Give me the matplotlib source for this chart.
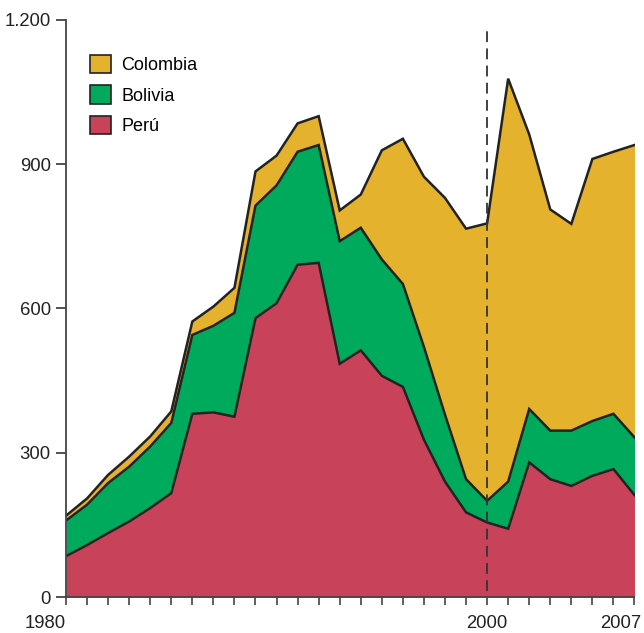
import matplotlib
matplotlib.use("Agg")
import matplotlib.pyplot as plt
import matplotlib.transforms as mtransforms
from matplotlib.patches import Patch

plt.rcParams['font.family'] = ['Liberation Sans', 'DejaVu Sans']

# years and values (stacked: Peru, Bolivia, Colombia)
years = list(range(1980, 2008))
peru = [85, 108, 133, 157, 185, 216, 381, 384, 375, 580, 611, 691, 695, 485,
        513, 460, 437, 327, 240, 176, 155, 142, 280, 245, 231, 252, 266, 212]
bolivia = [74, 84, 104, 114, 128, 146, 164, 180, 216, 234, 245, 235, 245, 255,
           255, 242, 214, 193, 139, 69, 45, 98, 111, 101, 115, 114, 115, 120]
colombia = [10, 13, 17, 21, 21, 24, 28, 40, 52, 71, 62, 59, 60, 64,
            69, 227, 302, 354, 451, 521, 577, 838, 571, 460, 430, 545, 545, 608]

names = ['Colombia', 'Bolivia', 'Perú']
colors = {'Perú': '#c8435a', 'Bolivia': '#00aa5c', 'Colombia': '#e5b22d'}

y_ticks = [0, 300, 600, 900, 1200]
y_labels = ['0', '300', '600', '900', '1.200']
x_labeled = {1980: '1980', 2000: '2000', 2007: '2007'}

edge = '#222222'

fig = plt.figure(figsize=(6.44, 6.33), dpi=100)
ax = fig.add_axes([66 / 644, 36 / 633, 568.5 / 644, 577 / 633])

# cumulative layers
top_peru = peru
top_bol = [p + b for p, b in zip(peru, bolivia)]
top_col = [t + c for t, c in zip(top_bol, colombia)]

ax.fill_between(years, 0, top_peru, color=colors['Perú'], lw=0)
ax.fill_between(years, top_peru, top_bol, color=colors['Bolivia'], lw=0)
ax.fill_between(years, top_bol, top_col, color=colors['Colombia'], lw=0)
for layer in (top_peru, top_bol, top_col):
    ax.plot(years, layer, color=edge, lw=1.8, solid_joinstyle='miter')

ax.vlines(2000, 12, 1185, colors='#333333', linestyles=(0, (6, 3.5)), lw=1.3)

ax.set_xlim(1980, 2007)
ax.set_ylim(0, 1200)

for s in ['top', 'right']:
    ax.spines[s].set_visible(False)
for s in ['left', 'bottom']:
    ax.spines[s].set_color('#444444')
    ax.spines[s].set_linewidth(1.3)

ax.set_yticks(y_ticks)
ax.set_yticklabels(y_labels)
ax.set_xticks(years)
ax.set_xticklabels([x_labeled.get(y, '') for y in years])
ax.tick_params(axis='y', length=7, width=1.3, color='#444444', pad=4,
               labelsize=13.3, labelcolor='#222222')
ax.tick_params(axis='x', length=6, width=1.2, color='#444444', pad=7,
               labelsize=13.3, labelcolor='#222222')
xlabels = ax.get_xticklabels()
xlabels[0].set_horizontalalignment('right')
# last label sits against the right edge of the figure
xlabels[-1].set_horizontalalignment('right')
xlabels[-1].set_transform(xlabels[-1].get_transform() +
                          mtransforms.ScaledTranslation(0.07, 0, fig.dpi_scale_trans))

handles = [Patch(facecolor=colors[n], edgecolor=edge, lw=1.2) for n in names]
ax.legend(handles, names, loc='upper left', bbox_to_anchor=(0.013, 0.968),
          frameon=False, fontsize=13, handlelength=1.2, handleheight=1.2,
          handletextpad=0.55, labelspacing=0.62)

fig.savefig('out.png', dpi=100)
